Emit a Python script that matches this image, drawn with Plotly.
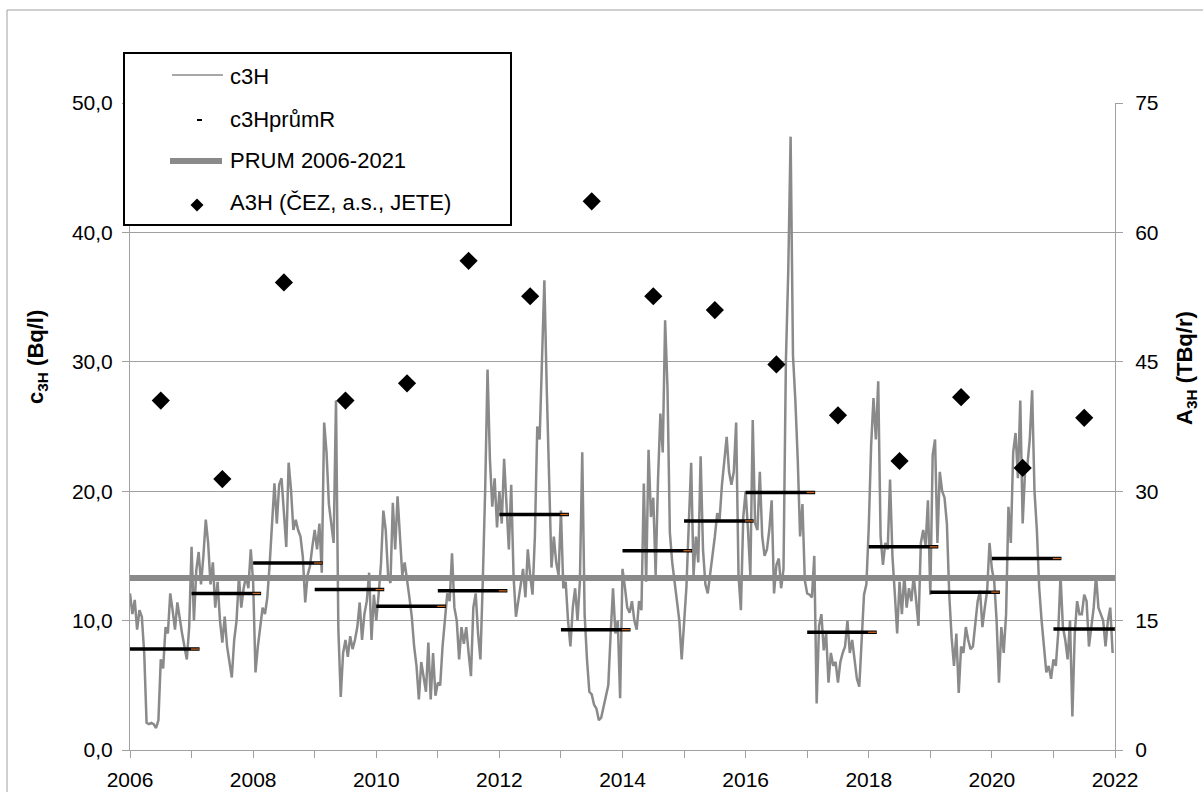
import plotly.graph_objects as go

# ---- data -----------------------------------------------------------------
# tritium concentration c3H (Bq/l), fortnightly samples, one list per year
c3h_2006 = [12.1, 10.5, 11.6, 9.3, 10.8, 10.3, 7.5, 2.1, 2.0, 2.1, 2.0, 1.7, 2.3, 7.0, 6.3, 9.5, 9.0, 12.1, 10.8, 9.3, 11.4, 10.0, 9.0, 8.0, 7.0, 9.5]
c3h_2007 = [15.7, 10.0, 13.9, 15.3, 12.8, 15.0, 17.8, 16.0, 12.8, 14.5, 11.0, 13.0, 10.0, 8.3, 10.3, 8.0, 6.7, 5.6, 8.5, 10.0, 13.4, 11.0, 12.5, 13.4, 12.5, 15.5]
c3h_2008 = [13.0, 6.0, 8.0, 9.5, 11.0, 10.5, 11.8, 14.4, 17.2, 20.6, 17.5, 20.5, 21.0, 18.5, 15.7, 22.2, 20.1, 17.0, 17.8, 17.0, 16.5, 14.9, 11.4, 13.5, 14.2, 15.7]
c3h_2009 = [17.0, 15.5, 17.5, 13.7, 25.3, 23.0, 19.0, 17.5, 16.0, 27.0, 9.3, 4.1, 7.5, 8.5, 7.2, 8.8, 7.8, 8.5, 9.5, 11.4, 8.5, 10.5, 11.5, 13.7, 8.5, 12.0]
c3h_2010 = [10.0, 12.0, 14.4, 18.5, 17.0, 13.5, 12.9, 19.1, 15.5, 19.6, 16.0, 13.5, 14.5, 12.9, 11.8, 10.3, 8.0, 6.5, 3.9, 6.8, 5.8, 4.5, 8.3, 3.9, 7.5, 4.2]
c3h_2011 = [5.2, 5.0, 8.0, 9.8, 12.1, 11.5, 15.2, 11.0, 10.0, 7.0, 9.5, 8.2, 9.5, 7.5, 5.7, 11.0, 12.1, 9.0, 7.0, 13.1, 20.1, 29.4, 22.5, 18.8, 21.0, 17.2]
c3h_2012 = [20.0, 17.5, 22.5, 19.0, 15.5, 20.5, 13.4, 10.3, 11.5, 13.0, 14.0, 11.8, 15.5, 13.5, 12.0, 16.5, 25.0, 24.0, 29.6, 36.3, 28.0, 21.4, 14.1, 16.5, 14.5, 13.5]
c3h_2013 = [18.5, 12.5, 13.0, 10.0, 8.0, 11.0, 12.5, 10.0, 13.0, 23.0, 10.5, 7.0, 4.5, 4.3, 3.5, 3.2, 2.3, 2.5, 3.3, 4.0, 5.0, 9.0, 12.5, 9.0, 10.0, 4.0]
c3h_2014 = [14.0, 12.6, 11.0, 10.6, 11.5, 10.0, 9.3, 11.5, 10.8, 20.6, 13.0, 23.2, 18.0, 19.5, 13.5, 20.9, 26.0, 23.0, 33.2, 28.0, 16.8, 14.5, 13.1, 11.5, 10.0, 7.0]
c3h_2015 = [9.5, 12.6, 17.5, 22.2, 13.5, 16.5, 14.5, 22.7, 15.5, 12.8, 12.1, 13.5, 15.0, 16.5, 18.3, 17.8, 20.5, 22.5, 24.2, 21.5, 20.5, 21.5, 25.3, 13.5, 10.8, 18.0]
c3h_2016 = [20.0, 17.0, 13.5, 25.5, 17.5, 17.0, 21.5, 16.5, 15.0, 15.5, 17.0, 19.3, 12.1, 14.3, 14.8, 12.5, 14.0, 30.0, 37.0, 47.4, 30.5, 27.0, 22.5, 16.5, 19.0, 13.1]
c3h_2017 = [12.1, 12.0, 11.8, 15.0, 3.6, 9.6, 10.5, 7.7, 9.0, 5.2, 7.5, 6.5, 6.8, 5.2, 6.8, 7.5, 8.0, 10.0, 7.5, 8.5, 7.0, 5.5, 4.9, 8.0, 12.0, 12.8]
c3h_2018 = [17.2, 23.5, 27.2, 24.0, 28.5, 16.5, 14.3, 16.0, 15.5, 20.9, 15.0, 12.1, 9.0, 13.0, 10.5, 13.5, 11.0, 12.5, 11.5, 13.5, 11.5, 9.6, 16.0, 17.0, 15.8, 19.3]
c3h_2019 = [12.0, 22.8, 24.0, 16.0, 21.5, 20.0, 19.5, 17.5, 12.0, 8.7, 6.5, 9.0, 4.4, 8.0, 7.5, 9.5, 8.5, 7.8, 8.0, 9.8, 11.5, 12.3, 9.5, 11.0, 12.3, 16.0]
c3h_2020 = [14.0, 13.0, 10.0, 5.2, 9.5, 7.5, 10.5, 18.8, 16.0, 23.0, 24.5, 21.0, 27.0, 17.5, 21.5, 22.0, 24.0, 27.8, 20.0, 17.0, 12.5, 10.0, 8.0, 6.0, 6.5, 5.5]
c3h_2021 = [7.0, 6.5, 9.0, 13.5, 9.5, 8.5, 7.0, 10.0, 2.6, 9.0, 11.5, 10.5, 10.5, 12.0, 11.5, 8.0, 9.5, 11.0, 13.5, 11.0, 10.5, 10.0, 8.0, 10.0, 11.0, 7.5]

years = list(range(2006, 2022))

# annual means of c3H (Bq/l)
c3h_annual_mean = [7.8, 12.1, 14.45, 12.4, 11.1, 12.3, 18.2, 9.3, 15.4, 17.7, 19.9, 9.1, 15.7, 12.2, 14.8, 9.35]

# long-term mean 2006-2021 (Bq/l)
c3h_mean_2006_2021 = 13.3

# annual tritium discharge A3H (TBq/r), plotted mid-year
a3h_discharge = [40.5, 31.4, 54.2, 40.5, 42.5, 56.7, 52.6, 63.6, 52.6, 51.0, 44.7, 38.8, 33.5, 40.9, 32.7, 38.5]

x_tick_vals = list(range(2006, 2023, 2))
x_tick_text = [str(y) for y in x_tick_vals]
y_left_ticks = [0, 10, 20, 30, 40, 50]
y_right_ticks = [0, 15, 30, 45, 60, 75]

legend_labels = ["c3H", "c3HprůmR", "PRUM 2006-2021", "A3H (ČEZ, a.s., JETE)"]

# ---- derived series -------------------------------------------------------
c3h_series = [c3h_2006, c3h_2007, c3h_2008, c3h_2009, c3h_2010, c3h_2011,
              c3h_2012, c3h_2013, c3h_2014, c3h_2015, c3h_2016, c3h_2017,
              c3h_2018, c3h_2019, c3h_2020, c3h_2021]
c3h_x, c3h_y = [], []
for yr, vals in zip(years, c3h_series):
    n = len(vals)
    for i, v in enumerate(vals):
        c3h_x.append(yr + i / n)
        c3h_y.append(v)

mean_x, mean_y, tip_x, tip_y = [], [], [], []
for yr, v in zip(years, c3h_annual_mean):
    mean_x += [yr, yr + 1.13, None]
    mean_y += [v, v, None]
    tip_x += [yr + 0.99, yr + 1.12, None]
    tip_y += [v, v, None]

mid_year = [y + 0.5 for y in years]

GREY = "#8a8a8a"
AXIS = "#a0a0a0"
FONT = "Liberation Sans, Arial, sans-serif"

fig = go.Figure()
fig.add_trace(go.Scatter(x=c3h_x, y=c3h_y, mode="lines",
                         line=dict(color=GREY, width=2.5), name=legend_labels[0]))
fig.add_trace(go.Scatter(x=[2006, 2022], y=[c3h_mean_2006_2021] * 2, mode="lines",
                         line=dict(color=GREY, width=6), name=legend_labels[2]))
fig.add_trace(go.Scatter(x=mean_x, y=mean_y, mode="lines",
                         line=dict(color="#000000", width=3.5), name=legend_labels[1]))
fig.add_trace(go.Scatter(x=tip_x, y=tip_y, mode="lines",
                         line=dict(color="#c8641e", width=1.3), showlegend=False))
fig.add_trace(go.Scatter(x=mid_year, y=a3h_discharge, mode="markers", yaxis="y2",
                         marker=dict(symbol="diamond", size=14, color="#000000"),
                         name=legend_labels[3]))

# ---- layout ---------------------------------------------------------------
L, R, T, B = 130, 1115, 103, 750
PW, PH = R - L, B - T


def px(xp):
    return (xp - L) / PW


def py(yp):
    return (B - yp) / PH


fig.update_layout(
    width=1203, height=792, autosize=False,
    margin=dict(l=L, r=1203 - R, t=T, b=792 - B, pad=0),
    paper_bgcolor="white", plot_bgcolor="white",
    separators=", ",
    showlegend=False,
    font=dict(family=FONT, size=20, color="#000000"),
    xaxis=dict(range=[2006, 2022], tickvals=x_tick_vals, ticktext=x_tick_text,
               ticks="outside", ticklen=7, tickcolor=AXIS, tickwidth=1,
               minor=dict(dtick=1, tick0=2006, ticks="outside", ticklen=7,
                          tickcolor=AXIS, tickwidth=1, showgrid=False),
               showline=True, linecolor=AXIS, linewidth=1, showgrid=False,
               zeroline=False, tickfont=dict(size=21), ticklabelstandoff=4,
               automargin=False),
    yaxis=dict(range=[0, 50], tickvals=y_left_ticks, tickformat=".1f",
               ticks="outside", ticklen=7, tickcolor=AXIS, tickwidth=1,
               showline=True, linecolor=AXIS, linewidth=1,
               showgrid=True, gridcolor=AXIS, gridwidth=1, zeroline=False,
               tickfont=dict(size=21), ticklabelstandoff=5, automargin=False),
    yaxis2=dict(range=[0, 75], tickvals=y_right_ticks, tickformat="d",
                overlaying="y", side="right",
                ticks="outside", ticklen=7, tickcolor=AXIS, tickwidth=1,
                showline=True, linecolor=AXIS, linewidth=1,
                showgrid=False, zeroline=False,
                tickfont=dict(size=21), ticklabelstandoff=8, automargin=False),
)

shapes = [
    # outer chart frame
    dict(type="rect", xref="paper", yref="paper", x0=px(7), x1=px(1215),
         y0=py(805), y1=py(10), line=dict(color=AXIS, width=1), layer="below"),
    # legend box
    dict(type="rect", xref="paper", yref="paper", x0=px(124), x1=px(511),
         y0=py(225), y1=py(53), line=dict(color="#000000", width=2),
         fillcolor="white", layer="above"),
    # legend symbols
    dict(type="line", xref="paper", yref="paper", x0=px(172), x1=px(223),
         y0=py(75), y1=py(75), line=dict(color=GREY, width=1.6), layer="above"),
    dict(type="line", xref="paper", yref="paper", x0=px(197), x1=px(202),
         y0=py(120), y1=py(120), line=dict(color="#000000", width=2), layer="above"),
    dict(type="line", xref="paper", yref="paper", x0=px(170), x1=px(222),
         y0=py(161), y1=py(161), line=dict(color=GREY, width=6), layer="above"),
    dict(type="path", xref="paper", yref="paper", layer="above",
         path=(f"M {px(190.5)},{py(205)} L {px(197)},{py(198.5)} "
               f"L {px(203.5)},{py(205)} L {px(197)},{py(211.5)} Z"),
         fillcolor="#000000", line=dict(color="#000000", width=0)),
]
fig.update_layout(shapes=shapes)

annotations = [
    dict(text="<b>c<sub>3H</sub> (Bq/l)</b>", x=px(37), y=py(357), textangle=-90,
         font=dict(size=22)),
    dict(text="<b>A<sub>3H</sub> (TBq/r)</b>", x=px(1186), y=py(368), textangle=-90,
         font=dict(size=22)),
]
for label, yc in zip(legend_labels, [77, 119, 160, 202]):
    annotations.append(dict(text=label, x=px(228), y=py(yc), xanchor="left",
                            font=dict(size=22)))
for a in annotations:
    a.update(xref="paper", yref="paper", showarrow=False)
    a.setdefault("xanchor", "center")
    a.setdefault("yanchor", "middle")
fig.update_layout(annotations=annotations)

fig.write_html("out.html")
